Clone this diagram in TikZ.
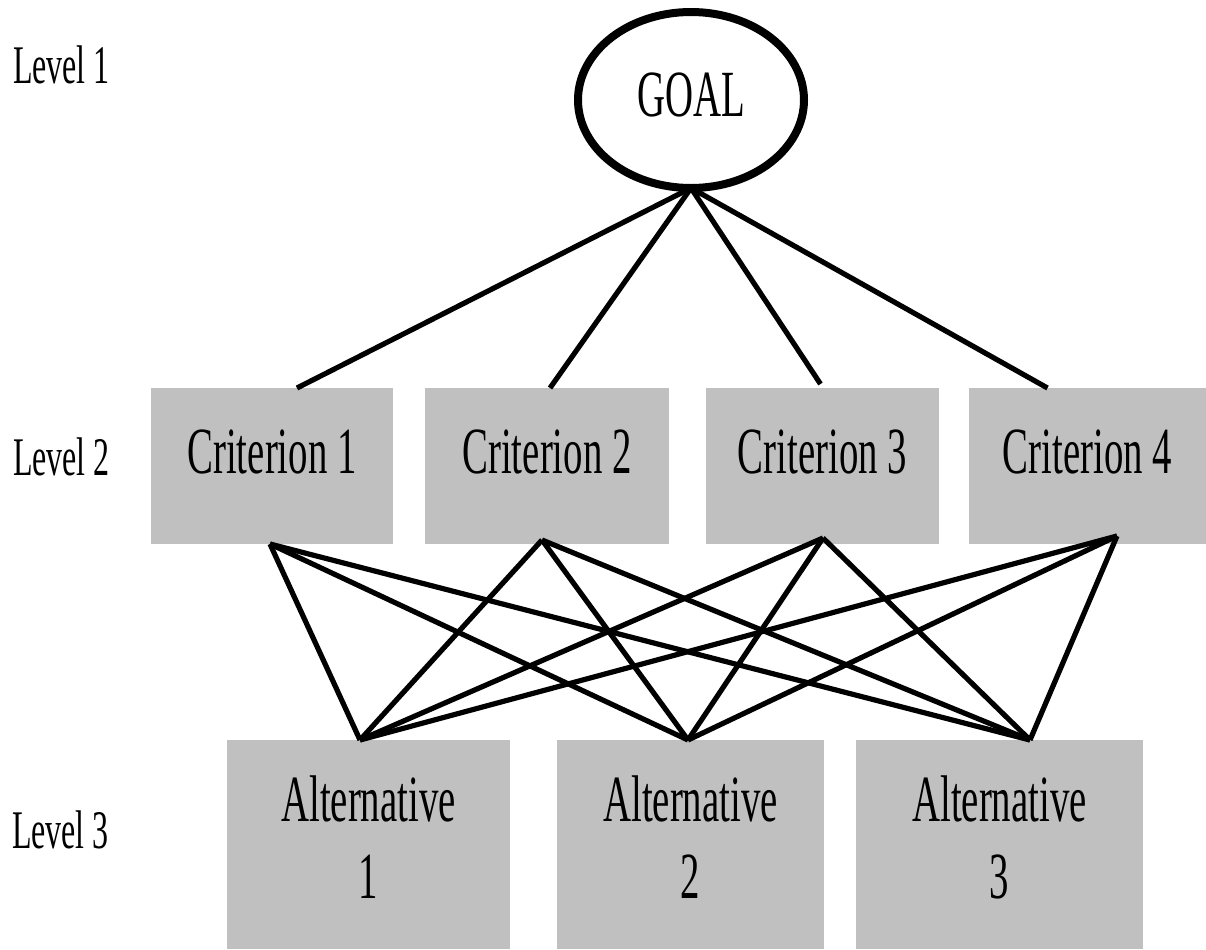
\documentclass[tikz,border=0pt]{standalone}
\usepackage{fontspec}
\setmainfont{Liberation Serif}
\usepackage{graphicx}
\usetikzlibrary{shapes.geometric,calc}
\definecolor{boxgray}{RGB}{192,192,192}
\newcommand\talltext[1]{\scalebox{1}[1.7]{\fontsize{19.4}{22.6}\selectfont #1}}
\newcommand\tallstack[2]{\scalebox{1}[1.7]{\fontsize{19.4}{22.6}\selectfont\begin{tabular}{@{}c@{}}#1\\#2\end{tabular}}}
\newcommand\levtext[1]{\scalebox{1}[1.7]{\fontsize{16}{19}\selectfont #1}}
\begin{document}
\begin{tikzpicture}[x=0.5pt,y=-0.5pt,
  critbox/.style={rectangle, fill=boxgray, draw=none, minimum width=#1, minimum height=78pt, inner sep=0pt, outer sep=0pt, text depth=14pt},
  altbox/.style={rectangle, fill=boxgray, draw=none, minimum width=#1, minimum height=104.5pt, inner sep=0pt, outer sep=0pt},
  goalnode/.style={ellipse, draw=black, line width=4pt, fill=white, minimum width=113pt, minimum height=88pt, inner sep=0pt, outer sep=0pt, text depth=5pt},
  levlabel/.style={anchor=base west, inner sep=0pt, outer sep=0pt},
  conn/.style={line width=2.6pt, black}]
\useasboundingbox (0,0) rectangle (1206,949);

% level labels
\node[levlabel] (l1) at (13,83) {\levtext{Level 1}};
\node[levlabel] (l2) at (13,475) {\levtext{Level 2}};
\node[levlabel] (l3) at (12,848) {\levtext{Level 3}};

% goal
\node[goalnode] (g) at (691,100) {\talltext{GOAL}};

% criteria
\node[critbox=121pt] (c1) at (272,466) {\talltext{Criterion 1}};
\node[critbox=122pt] (c2) at (547,466) {\talltext{Criterion 2}};
\node[critbox=116.5pt] (c3) at (822.5,466) {\talltext{Criterion 3}};
\node[critbox=118.5pt] (c4) at (1087.5,466) {\talltext{Criterion 4}};

% alternatives
\node[altbox=141.5pt] (a1) at (368.5,844.5) {\tallstack{Alternative}{1}};
\node[altbox=133.5pt] (a2) at (690.5,844.5) {\tallstack{Alternative}{2}};
\node[altbox=143.5pt] (a3) at (999.5,844.5) {\tallstack{Alternative}{3}};

% connection points
\coordinate (ct1) at ($(c1.north)+(25,0)$);
\coordinate (ct2) at ($(c2.north)+(3,0)$);
\coordinate (ct3) at ($(c3.north)+(-2,-4)$);
\coordinate (ct4) at ($(c4.north)+(-40,0)$);
\coordinate (cb1) at ($(c1.south)+(-2,0)$);
\coordinate (cb2) at ($(c2.south)+(-5,-4)$);
\coordinate (cb3) at ($(c3.south)+(0.5,-6)$);
\coordinate (cb4) at ($(c4.south)+(29.5,-8)$);
\coordinate (at1) at ($(a1.north)+(-8.5,0)$);
\coordinate (at2) at ($(a2.north)+(-2.5,0)$);
\coordinate (at3) at ($(a3.north)+(30.5,0)$);

% goal to criteria
\foreach \i in {1,2,3,4}{
  \draw[conn] (g.south) -- (ct\i);
}
% criteria to alternatives
\foreach \i in {1,2,3,4}{
  \foreach \j in {1,2,3}{
    \draw[conn] (cb\i) -- (at\j);
  }
}
\end{tikzpicture}
\end{document}
